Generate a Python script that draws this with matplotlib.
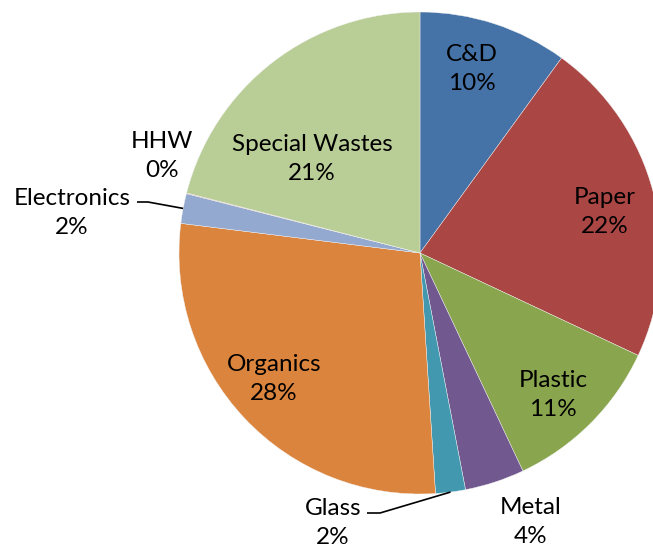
import numpy as np
import matplotlib
matplotlib.use("Agg")
import matplotlib.pyplot as plt

# waste composition, percent
categories = ["C&D", "Paper", "Plastic", "Metal", "Glass", "Organics",
              "Electronics", "HHW", "Special Wastes"]
shares = [10, 22, 11, 4, 2, 28, 2, 0.05, 21]
colors = ["#4572A7", "#AA4643", "#89A54E", "#71588F", "#4198AF",
          "#DB843D", "#93A9CF", "#D19392", "#B9CD96"]

# label anchors in pixel space (x from left, y from top)
label_pos = {
    "C&D": (472, 69),
    "Paper": (605, 212),
    "Plastic": (553, 395),
    "Metal": (531, 522),
    "Glass": (333, 523),
    "Organics": (274, 379),
    "Electronics": (72, 213),
    "HHW": (162, 156),
    "Special Wastes": (312, 159),
}
# elbow of the leader line (start, bend) for the small outside slices
leaders = {
    "Electronics": ((137, 202), (148, 202)),
    "Glass": ((367, 513), (380, 513)),
}

W, H = 653, 548
cx, cy, R = 420, 253, 241

plt.rcParams["font.family"] = ["Lato", "DejaVu Sans"]
fig = plt.figure(figsize=(W / 100, H / 100), dpi=100)
ax = fig.add_axes([0, 0, 1, 1])

# y axis runs downward, so start at -90 and go counterclockwise in data
# space, which reads as clockwise from 12 o'clock on screen
wedges, _ = ax.pie(shares, colors=colors, startangle=-90, counterclock=True,
                   radius=R, center=(cx, cy),
                   wedgeprops=dict(edgecolor="#f4f4f4", linewidth=0.3))
ax.set_xlim(0, W)
ax.set_ylim(H, 0)
ax.set_aspect("equal")
ax.axis("off")

total = sum(shares)
cum = np.cumsum([0] + shares)
for name, val, c0, c1 in zip(categories, shares, cum[:-1], cum[1:]):
    txt = "%s\n%d%%" % (name, round(val / total * 100))
    x, y = label_pos[name]
    ax.text(x, y, txt, ha="center", va="center", fontsize=17.5,
            linespacing=1.5, color="black")
    if name in leaders:
        mid = (c0 + c1) / 2 / total * 2 * np.pi
        ex = cx + R * np.sin(mid)
        ey = cy - R * np.cos(mid)
        (x0, y0), (x1, y1) = leaders[name]
        ax.plot([x0, x1, ex], [y0, y1, ey], color="black", lw=1.2,
                solid_capstyle="butt")

fig.savefig("out.png", dpi=100)
